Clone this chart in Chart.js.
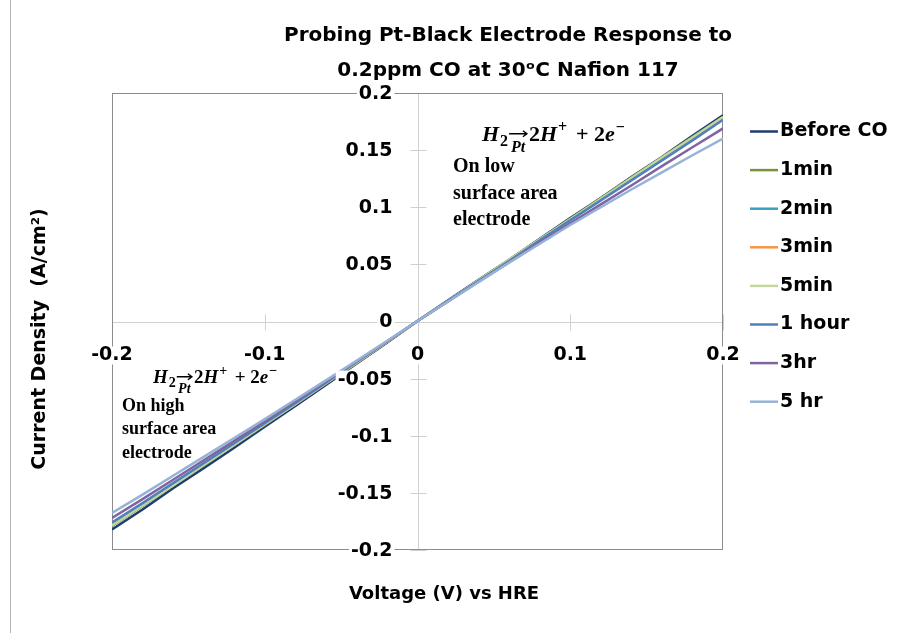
<!DOCTYPE html>
<html>
<head>
<meta charset="utf-8">
<script src="https://cdn.jsdelivr.net/npm/chart.js@4.4.1/dist/chart.umd.min.js"></script>
<style>
  html, body { margin: 0; padding: 0; background: #fff; }
  #grafica { display: block; }
</style>
</head>
<body>
<canvas id="grafica" width="902" height="633"></canvas>
<script>
// datos
const voltaje = [-0.2, -0.18, -0.16, -0.14, -0.12, -0.1, -0.08, -0.06, -0.04, -0.02, 0, 0.02, 0.04, 0.06, 0.08, 0.1, 0.12, 0.14, 0.16, 0.18, 0.2];

const antesCO = [-0.182, -0.1645, -0.146, -0.1285, -0.1105, -0.092, -0.074, -0.0555, -0.037, -0.0185, 0.0005, 0.0185, 0.0365, 0.054, 0.0725, 0.0905, 0.108, 0.1265, 0.144, 0.1625, 0.1805];
const min1 = [-0.179, -0.1615, -0.1435, -0.126, -0.108, -0.0905, -0.0725, -0.0545, -0.0365, -0.018, 0.0005, 0.018, 0.036, 0.054, 0.072, 0.09, 0.108, 0.126, 0.1435, 0.1615, 0.179];
const min2 = [-0.1785, -0.161, -0.143, -0.1255, -0.1075, -0.09, -0.072, -0.054, -0.036, -0.018, 0.0005, 0.018, 0.036, 0.0535, 0.0715, 0.0895, 0.107, 0.125, 0.1425, 0.1605, 0.178];
const min3 = [-0.178, -0.1605, -0.1425, -0.125, -0.1075, -0.0895, -0.072, -0.054, -0.036, -0.018, 0.0005, 0.018, 0.0355, 0.0535, 0.0715, 0.089, 0.107, 0.1245, 0.1425, 0.16, 0.1775];
const min5 = [-0.1785, -0.161, -0.1435, -0.1255, -0.108, -0.09, -0.0725, -0.054, -0.036, -0.018, 0.0005, 0.018, 0.036, 0.054, 0.072, 0.0895, 0.1075, 0.1255, 0.1435, 0.161, 0.179];
const hora1 = [-0.176, -0.159, -0.1415, -0.124, -0.1065, -0.089, -0.0715, -0.0535, -0.0355, -0.0175, 0.0005, 0.018, 0.0355, 0.053, 0.071, 0.0885, 0.106, 0.1235, 0.141, 0.1585, 0.1765];
const hr3 = [-0.172, -0.1555, -0.1385, -0.1215, -0.1045, -0.0875, -0.07, -0.0525, -0.035, -0.0175, 0.0005, 0.0175, 0.035, 0.052, 0.069, 0.086, 0.1025, 0.119, 0.136, 0.1525, 0.169];
const hr5 = [-0.1675, -0.1515, -0.135, -0.1185, -0.102, -0.0855, -0.0685, -0.0515, -0.0345, -0.017, 0.0005, 0.0175, 0.0345, 0.0515, 0.068, 0.0845, 0.1, 0.1155, 0.1305, 0.1455, 0.16];

const nombres = ['Before CO', '1min', '2min', '3min', '5min', '1 hour', '3hr', '5 hr'];
const series = [antesCO, min1, min2, min3, min5, hora1, hr3, hr5];
const colores = ['#1f3c6e', '#77933c', '#3b9fbf', '#f79646', '#c3d69b', '#4f81bd', '#8064a2', '#95b3d7'];

const ticksX = [-0.2, -0.1, 0, 0.1, 0.2];
const ticksY = [-0.2, -0.15, -0.1, -0.05, 0, 0.05, 0.1, 0.15, 0.2];

const titulo = ['Probing Pt-Black Electrode Response to', '0.2ppm CO at 30\u1D52C Nafion 117'];
const tituloX = 'Voltage (V) vs HRE';
const tituloY = 'Current Density  (A/cm\u00B2)';
const notaArriba = ['On low', 'surface area', 'electrode'];
const notaAbajo = ['On high', 'surface area', 'electrode'];

const SANS = '"DejaVu Sans"';
const SERIF = '"Liberation Serif"';

function texto(ctx, str, x, y, font, align, fondo) {
    ctx.font = font;
    ctx.textAlign = align || 'left';
    ctx.textBaseline = 'middle';
    if (fondo) {
        const w = ctx.measureText(str).width;
        let x0 = x - w / 2;
        if (align === 'right') x0 = x - w;
        if (align === 'left') x0 = x;
        ctx.fillStyle = '#fff';
        ctx.fillRect(x0 - 2, y - 9, w + 4, 18);
    }
    ctx.fillStyle = '#000';
    ctx.fillText(str, x, y);
}

// H2 ->(Pt) 2H+ + 2e-
function reaccion(ctx, x, y, s) {
    const it = `italic bold ${s}px ${SERIF}`;
    const rm = `bold ${s}px ${SERIF}`;
    const sm = Math.round(s * 0.74);
    ctx.fillStyle = '#000';
    ctx.textAlign = 'left';
    ctx.textBaseline = 'alphabetic';
    const pieza = (str, font, dy, extra) => {
        ctx.font = font;
        ctx.fillText(str, x, y + dy);
        x += ctx.measureText(str).width + (extra || 0);
    };
    pieza('H', it, 0, 1);
    pieza('2', `bold ${sm}px ${SERIF}`, s * 0.22);
    // flecha con Pt debajo
    ctx.font = `italic bold ${sm}px ${SERIF}`;
    const wPt = ctx.measureText('Pt').width;
    const wFl = Math.max(wPt + 4, s * 0.9);
    ctx.fillText('Pt', x + (wFl - wPt) / 2, y + s * 0.52);
    ctx.strokeStyle = '#000';
    ctx.lineWidth = 1.4;
    const ya = y - s * 0.33;
    ctx.beginPath();
    ctx.moveTo(x + 1, ya);
    ctx.lineTo(x + wFl - 1, ya);
    ctx.moveTo(x + wFl - 5, ya - 3);
    ctx.lineTo(x + wFl - 1, ya);
    ctx.lineTo(x + wFl - 5, ya + 3);
    ctx.stroke();
    x += wFl + 1;
    pieza('2', rm, 0);
    pieza('H', it, 0, 1);
    pieza('+', `bold ${sm}px ${SERIF}`, -s * 0.42, s * 0.15);
    pieza(' + 2', rm, 0);
    pieza('e', it, 0, 1);
    pieza('\u2212', `bold ${sm}px ${SERIF}`, -s * 0.42);
}

const decorado = {
    id: 'decorado',
    beforeDatasetsDraw(chart) {
        const { ctx, chartArea: a, scales: { x, y } } = chart;
        const x0 = Math.round(x.getPixelForValue(0)) + 0.5;
        const y0 = Math.round(y.getPixelForValue(0)) + 0.5;
        ctx.save();
        ctx.lineWidth = 1;

        // borde exterior
        ctx.strokeStyle = '#b5b5b5';
        ctx.beginPath();
        ctx.moveTo(10.5, 0);
        ctx.lineTo(10.5, chart.height);
        ctx.stroke();

        // ejes en cero y marcas cruzadas
        ctx.strokeStyle = '#d0d0d0';
        ctx.beginPath();
        ctx.moveTo(a.left, y0); ctx.lineTo(a.right, y0);
        ctx.moveTo(x0, a.top); ctx.lineTo(x0, a.bottom);
        ticksX.forEach(v => {
            const px = Math.round(x.getPixelForValue(v)) + 0.5;
            ctx.moveTo(px, y0 - 8); ctx.lineTo(px, y0 + 8);
        });
        ticksY.forEach(v => {
            const py = Math.round(y.getPixelForValue(v)) + 0.5;
            ctx.moveTo(x0 - 8, py); ctx.lineTo(x0 + 8, py);
        });
        ctx.stroke();

        // marco del area
        ctx.strokeStyle = '#8c8c8c';
        ctx.strokeRect(a.left + 0.5, a.top + 0.5, a.right - a.left - 1, a.bottom - a.top - 1);
        ctx.restore();
    },
    afterDraw(chart) {
        const { ctx, scales: { x, y } } = chart;
        const x0 = x.getPixelForValue(0);
        const y0 = y.getPixelForValue(0);
        ctx.save();

        const fTick = `bold 19px ${SANS}`;
        ticksX.forEach(v => texto(ctx, String(v), x.getPixelForValue(v), y0 + 34, fTick, 'center', true));
        ticksY.forEach(v => texto(ctx, String(v), x0 - 25, y.getPixelForValue(v) + 1, fTick, 'right', true));

        // titulo
        ctx.font = `bold 20px ${SANS}`;
        ctx.textAlign = 'center';
        ctx.textBaseline = 'alphabetic';
        ctx.fillStyle = '#000';
        ctx.fillText(titulo[0], 508, 41);
        ctx.fillText(titulo[1], 508, 76);

        // titulos de ejes
        ctx.font = `bold 18px ${SANS}`;
        ctx.fillText(tituloX, 444, 599);
        ctx.save();
        ctx.translate(45, 339);
        ctx.rotate(-Math.PI / 2);
        ctx.font = `bold 19px ${SANS}`;
        ctx.fillText(tituloY, 0, 0);
        ctx.restore();

        // leyenda
        nombres.forEach((n, i) => {
            const ly = 131.5 + i * 38.6;
            ctx.strokeStyle = colores[i];
            ctx.lineWidth = 2.5;
            ctx.beginPath();
            ctx.moveTo(750, ly);
            ctx.lineTo(778, ly);
            ctx.stroke();
            texto(ctx, n, 780, ly, `bold 19px ${SANS}`, 'left', false);
        });

        // anotaciones
        reaccion(ctx, 482, 141, 22);
        notaArriba.forEach((t, i) => texto(ctx, t, 453, 167 + i * 26.5, `bold 20px ${SERIF}`, 'left', false));
        reaccion(ctx, 153, 383, 19);
        notaAbajo.forEach((t, i) => texto(ctx, t, 122, 406 + i * 23.5, `bold 18px ${SERIF}`, 'left', false));

        ctx.restore();
    }
};

const ctx = document.getElementById('grafica');
new Chart(ctx, {
    type: 'scatter',
    data: {
        datasets: series.map((datos, i) => ({
            label: nombres[i],
            data: voltaje.map((v, j) => ({ x: v, y: datos[j] })),
            borderColor: colores[i],
            backgroundColor: colores[i],
            borderWidth: 2.5,
            showLine: true,
            pointRadius: 0,
            order: series.length - i
        }))
    },
    options: {
        responsive: false,
        devicePixelRatio: 1,
        animation: false,
        layout: {
            padding: { left: 112, top: 93, right: 179, bottom: 83 }
        },
        scales: {
            x: { type: 'linear', min: -0.2, max: 0.2, display: false },
            y: { type: 'linear', min: -0.2, max: 0.2, display: false }
        },
        plugins: {
            legend: { display: false },
            title: { display: false },
            tooltip: { enabled: false }
        }
    },
    plugins: [decorado]
});
</script>
</body>
</html>
